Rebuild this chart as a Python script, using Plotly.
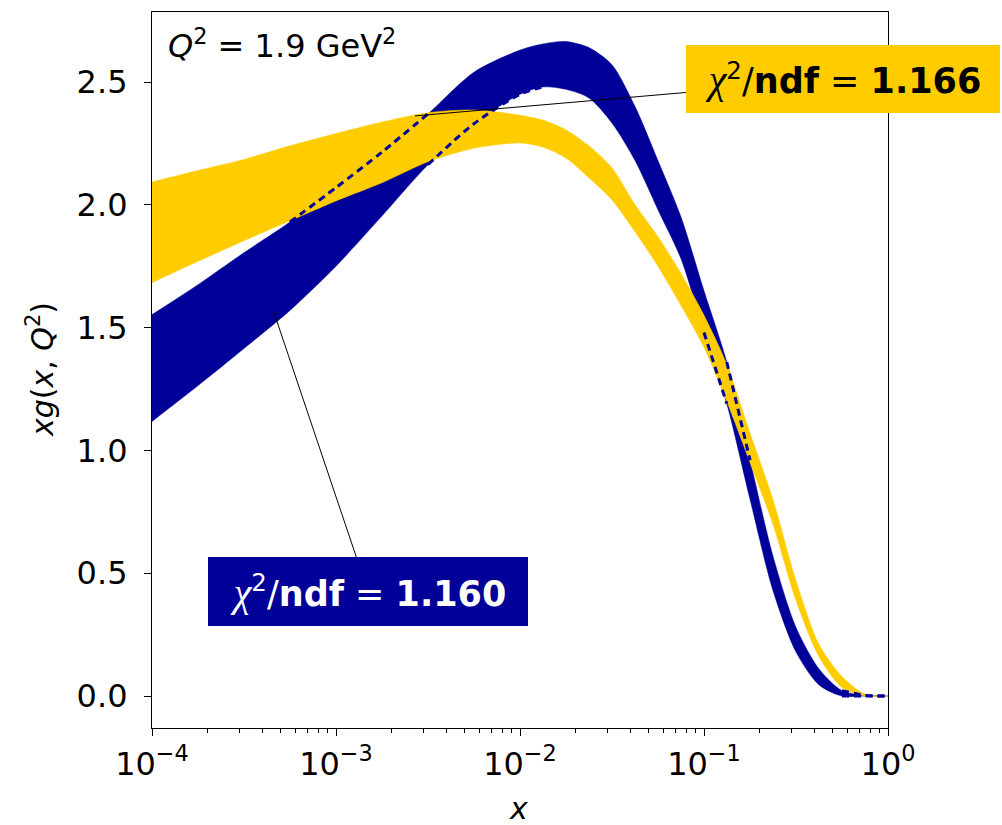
import plotly.graph_objects as go

# ---- data ----
x_vals = [1e-4, 1.78e-4, 3.16e-4, 5.62e-4, 1e-3, 1.78e-3, 3.16e-3, 5.62e-3,
          1e-2, 1.33e-2, 1.78e-2, 2.37e-2, 3.16e-2, 4.22e-2, 5.62e-2, 7.5e-2,
          0.1, 0.133, 0.178, 0.237, 0.316, 0.422, 0.562, 0.75, 1.0]

blue_lower = [1.118, 1.264, 1.415, 1.57, 1.75, 1.955, 2.163, 2.33,
              2.45, 2.48, 2.47, 2.435, 2.333, 2.18, 1.98, 1.78,
              1.48, 1.19, 0.80, 0.43, 0.18, 0.045, 0.0, 0.0, 0.0]
blue_upper = [1.553, 1.675, 1.805, 1.93, 2.07, 2.215, 2.37, 2.54,
              2.63, 2.655, 2.665, 2.64, 2.57, 2.40, 2.18, 1.95,
              1.65, 1.36, 0.96, 0.57, 0.28, 0.11, 0.022, 0.003, 0.0]

yellow_lower = [1.683, 1.77, 1.854, 1.935, 2.016, 2.09, 2.175, 2.23,
                2.252, 2.235, 2.19, 2.11, 2.02, 1.89, 1.75, 1.59,
                1.42, 1.20, 0.95, 0.70, 0.39, 0.16, 0.035, 0.0, 0.0]
yellow_upper = [2.093, 2.14, 2.185, 2.24, 2.29, 2.337, 2.375, 2.386,
                2.365, 2.345, 2.305, 2.24, 2.15, 2.0, 1.87, 1.72,
                1.55, 1.35, 1.07, 0.80, 0.47, 0.21, 0.08, 0.008, 0.0]

# index ranges where the blue band edges run underneath the yellow band
upper_hidden = [(3, 6), (17, 18), (22, 24)]
lower_hidden = [(6, 9), (16, 17), (22, 24)]

x_tick_vals = [1e-4, 1e-3, 1e-2, 1e-1, 1.0]
x_tick_text = ["10<sup>\u22124</sup>", "10<sup>\u22123</sup>", "10<sup>\u22122</sup>",
               "10<sup>\u22121</sup>", "10<sup>0</sup>"]
y_tick_vals = [0.0, 0.5, 1.0, 1.5, 2.0, 2.5]
y_tick_text = ["0.0", "0.5", "1.0", "1.5", "2.0", "2.5"]
minor_mult = [2, 3, 4, 5, 6, 7, 8, 9]
minor_vals = [m * d for d in [1e-4, 1e-3, 1e-2, 1e-1] for m in minor_mult]

chi_blue = "1.160"
chi_yellow = "1.166"
q2_label = "1.9"

BLUE = "#000099"
YELLOW = "#FFCC00"

W, H = 1002, 825
ML, MR, MT, MB = 152, 114, 12, 97
PW, PH = W - ML - MR, H - MT - MB


def px(xp):
    return (xp - ML) / PW


def py(yp):
    return (H - MB - yp) / PH


fig = go.Figure()
SM = 0.8


def band(lower, upper, color):
    fig.add_trace(go.Scatter(x=x_vals, y=lower, mode="lines",
                             line=dict(color=color, width=0.5, shape="spline", smoothing=SM),
                             showlegend=False, hoverinfo="skip"))
    fig.add_trace(go.Scatter(x=x_vals, y=upper, mode="lines", fill="tonexty",
                             fillcolor=color,
                             line=dict(color=color, width=0.5, shape="spline", smoothing=SM),
                             showlegend=False, hoverinfo="skip"))


band(blue_lower, blue_upper, BLUE)
band(yellow_lower, yellow_upper, YELLOW)

for edge, ranges in ((blue_upper, upper_hidden), (blue_lower, lower_hidden)):
    for a, b in ranges:
        fig.add_trace(go.Scatter(x=x_vals[a:b + 1], y=edge[a:b + 1], mode="lines",
                                 line=dict(color=BLUE, width=3, dash="7px,5px",
                                           shape="spline", smoothing=SM),
                                 showlegend=False, hoverinfo="skip"))

axis_font = dict(family="DejaVu Sans", size=32, color="black")

fig.update_xaxes(type="log", range=[-4, 0], tickvals=x_tick_vals, ticktext=x_tick_text,
                 ticks="outside", ticklen=7, tickwidth=1.2, tickcolor="black",
                 showline=True, linecolor="black", linewidth=1.2, mirror=True,
                 showgrid=False, zeroline=False, tickfont=axis_font,
                 minor=dict(ticks="outside", ticklen=4, tickwidth=1, tickcolor="black",
                            tickvals=minor_vals, showgrid=False))
fig.update_yaxes(range=[-0.13, 2.785], tickvals=y_tick_vals, ticktext=y_tick_text,
                 ticks="outside", ticklen=7, tickwidth=1.2, tickcolor="black",
                 showline=True, linecolor="black", linewidth=1.2, mirror=True,
                 showgrid=False, zeroline=False, tickfont=axis_font,
                 ticklabelstandoff=10)

chi = '<span style="font-family:Liberation Serif;font-weight:normal;font-size:40px"><i>\u03c7</i></span>'


def chi_text(val):
    return chi + '<sup>2</sup>/<b>ndf</b> = <b>' + val + '</b>'


annotations = [
    dict(xref="paper", yref="paper", x=px(166), y=py(44), xanchor="left", yanchor="middle",
         text="<i>Q</i><sup>2</sup> = " + q2_label + " GeV<sup>2</sup>",
         showarrow=False,
         font=dict(family="DejaVu Sans", size=32, color="black")),
    dict(xref="x", yref="y", x=-2.571, y=2.362, ax=428, ay=-37,
         text=chi_text(chi_yellow), showarrow=True, arrowhead=0,
         arrowwidth=1, arrowcolor="black", bgcolor=YELLOW, borderpad=0,
         borderwidth=0, width=314, height=68,
         font=dict(family="DejaVu Sans", size=35, color="black")),
    dict(xref="x", yref="y", x=-3.337, y=1.561, ax=94, ay=279,
         text=chi_text(chi_blue), showarrow=True, arrowhead=0,
         arrowwidth=1, arrowcolor="black", bgcolor=BLUE, borderpad=0,
         borderwidth=0, width=320, height=69,
         font=dict(family="DejaVu Sans", size=35, color="white")),
    dict(xref="paper", yref="paper", x=px(40), y=py(370), xanchor="center", yanchor="middle",
         text="<i>xg</i>(<i>x</i>, <i>Q</i><sup>2</sup>)", textangle=-90, showarrow=False,
         font=dict(family="DejaVu Sans", size=30, color="black")),
    dict(xref="paper", yref="paper", x=px(518), y=py(808), xanchor="center", yanchor="middle",
         text="<i>x</i>", showarrow=False,
         font=dict(family="DejaVu Sans", size=30, color="black")),
]

fig.update_layout(width=W, height=H, margin=dict(l=ML, r=MR, t=MT, b=MB),
                  plot_bgcolor="white", paper_bgcolor="white",
                  annotations=annotations, showlegend=False)

fig.write_html("out.html")
